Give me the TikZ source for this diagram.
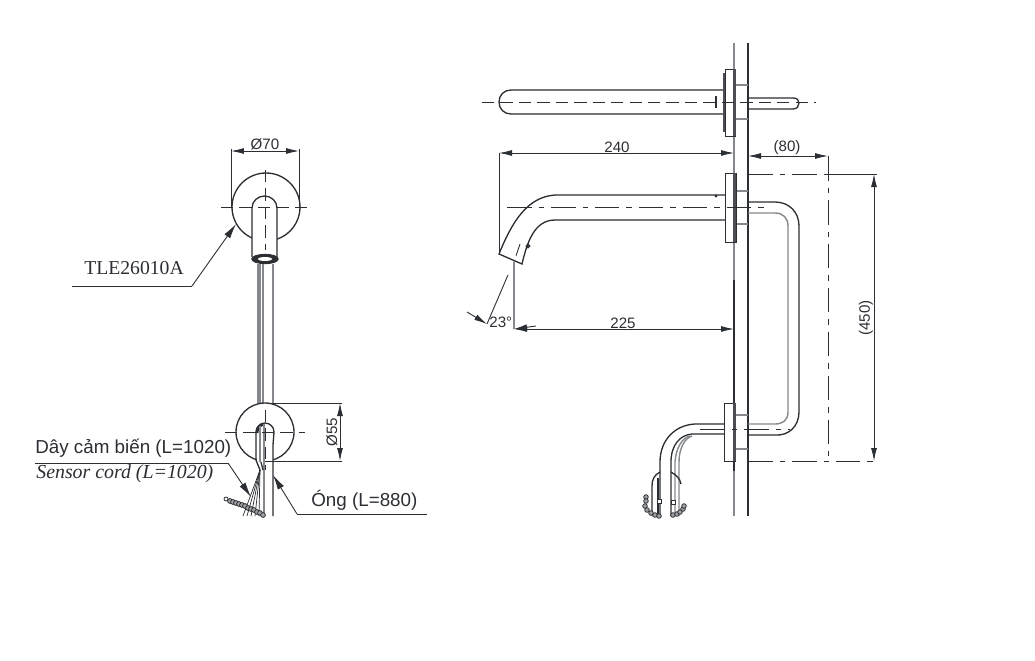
\documentclass[tikz,border=0pt]{standalone}
\usepackage{fontspec}
\setmainfont{Liberation Sans}
\newfontfamily\serifcap{Liberation Serif}
\usetikzlibrary{arrows.meta}

\definecolor{inkdark}{HTML}{2B2E33}
\definecolor{inkgray}{HTML}{85888C}

\tikzset{
	part/.style = {inkdark, line width = 0.75pt},
	softpart/.style = {inkgray, line width = 0.8pt},
	centerdash/.style = {inkdark, line width = 0.5pt, dash pattern = on 7pt off 3.5pt},
	centerchain/.style = {inkdark, line width = 0.5pt, dash pattern = on 14pt off 4pt on 3pt off 4pt},
	dimline/.style = {inkdark, line width = 0.5pt},
	dimarrow/.style = {dimline, {Latex[length=2.6mm,width=1.2mm]}-{Latex[length=2.6mm,width=1.2mm]}},
	leader/.style = {dimline, -{Latex[length=3mm,width=1.4mm]}},
	dimtext/.style = {inkdark, font = \fontsize{8.6}{10}\selectfont, inner sep = 0pt},
	note/.style = {inkdark, font = \fontsize{10.7}{12}\selectfont, inner sep = 0pt},
	strip/.style = {fill = inkdark!85, draw = none},
	bead/.style = {inkdark, line width = 0.45pt, fill = inkdark!45}
}

\begin{document}
\begin{tikzpicture}[x = 0.02cm, y = -0.02cm]
	\useasboundingbox[fill = white] (0,0) rectangle (1035,660);

	% front view, spout
	\draw[part, fill = white] (266,207) circle[radius = 34];
	\draw[part, fill = white] (252,257) -- (252,208) .. controls (252,201) and (258,196) .. (264.5,196) .. controls (271,196) and (277,201) .. (277,208) -- (277,257);
	\draw[part, fill = inkdark] (265,259) ellipse[x radius = 13, y radius = 4.5];
	\fill[white] (265,259) ellipse[x radius = 7, y radius = 2];
	\draw[centerdash] (221,207) -- (307,207);
	\draw[centerdash] (265,170) -- (265,250);
	\foreach \tubex in {258,260,263,273}
		\draw[softpart] (\tubex,264) -- (\tubex,404);

	\draw[dimline] (231,149) -- (231,207);
	\draw[dimline] (299,149) -- (299,207);
	\draw[dimarrow] (231,151) -- (299,151);
	\node[dimtext] (dimSeventy) at (265,144) {Ø70};

	\draw[leader] (192,286) -- (236,224);
	\draw[dimline] (72,286) -- (192,286);
	\node[inkdark, inner sep = 0pt, font = \serifcap\fontsize{11.2}{13}\selectfont] (capModel) at (134,268) {TLE26010A};

	% front view, lower plate
	\draw[part, fill = white] (265,432) circle[radius = 29];
	\fill[white] (257,433) rectangle (273,470);
	\draw[part] (256,460) -- (256,432) .. controls (256,427) and (260,423) .. (265,423) .. controls (270,423) and (274,427) .. (274,432) -- (273,445) -- (273,516);
	\draw[inkdark, line width = 1.6pt] (257,433) .. controls (257,428) and (260,425) .. (264,424);
	\draw[softpart] (264,424) -- (264,516);
	\draw[softpart] (260,426) -- (260,462);
	\draw[centerdash] (225,432) -- (305,432);
	\draw[centerdash] (265,410) -- (265,470);

	\draw[part] (256,460) -- (260,470);
	\draw[part] (261,462) -- (263,470);
	\foreach \wirex in {243,247,251,255,259}
		\draw[inkdark, line width = 0.4pt] (260,470) -- (\wirex,516);
	\draw[inkdark, line width = 0.45pt, fill = white] (226,499) circle[radius = 2];
	\foreach \beadx/\beady in {230/501,233/502,236/503,239/504,242/505,245/506,248/508,251/509,254/510,257/512,260/513,263/515}
		\draw[bead] (\beadx,\beady) circle[radius = 2.4];

	\draw[dimline] (270,403) -- (342,403);
	\draw[dimline] (265,461) -- (342,461);
	\draw[dimarrow] (340,403) -- (340,461);
	\node[dimtext, rotate = 90] (dimFiftyFive) at (332,432) {Ø55};

	\draw[leader] (228,463) -- (251,497);
	\draw[dimline] (35,463) -- (228,463);
	\node[note, anchor = west] (capCordVn) at (35,448) {Dây cảm biến (L=1020)};
	\node[inkdark, inner sep = 0pt, anchor = west, font = \serifcap\itshape\fontsize{11.3}{13}\selectfont] (capCordEn) at (36,474) {Sensor cord (L=1020)};

	\draw[leader] (297,514) -- (273,475);
	\draw[dimline] (297,514) -- (427,514);
	\node[note, anchor = west] (capPipe) at (311,500) {Óng (L=880)};

	% wall
	\draw[softpart] (734,43) -- (734,516);
	\draw[inkdark, line width = 0.9pt] (734,280) -- (734,471);
	\draw[part] (748,43) -- (748,516);

	% top view
	\draw[part, fill = white] (725,90) -- (511,90) .. controls (504,90) and (499,95) .. (499,102) .. controls (499,109) and (504,114) .. (511,114) -- (725,114);
	\draw[part] (748,98) -- (793,98) .. controls (797,98) and (799,100) .. (799,103) .. controls (799,106) and (797,109) .. (793,109) -- (748,109);
	\draw[softpart] (736,85) -- (748,85);
	\draw[softpart] (736,119) -- (748,119);
	\draw[dimline] (725,69) rectangle (735,136);
	\fill[strip] (733,69) rectangle (736,136);
	\fill[strip] (723,73) rectangle (725,132);
	\fill[inkdark] (715,96) rectangle (717,108);
	\draw[centerdash] (482,102) -- (816,102);

	\draw[dimline] (499,153) -- (499,254);
	\draw[dimarrow] (499,153) -- (734,153);
	\node[dimtext] (dimTwoForty) at (617,147) {240};

	\draw[dimarrow] (748,156) -- (828,156);
	\node[dimtext] (dimEighty) at (787,148) {(80)};

	% side view, spout
	\draw[part] (725,195) -- (555,195) .. controls (527,197) and (512,222) .. (499,254) -- (522,264) .. controls (527,243) and (534,220) .. (555,220) -- (725,220);
	\draw[part] (528,246) circle[radius = 1.6];
	\fill[inkdark] (716,196) circle[radius = 1.6];
	\draw[softpart] (736,191) -- (748,191);
	\draw[softpart] (736,224) -- (748,224);
	\draw[dimline] (725,173) rectangle (736,242);
	\fill[strip] (733,173) rectangle (736,242);

	% pipe behind the wall
	\draw[part] (748,202) -- (775,202) .. controls (789,202) and (799,212) .. (799,226) -- (799,412) .. controls (799,426) and (789,436) .. (775,435) -- (748,435);
	\draw[softpart] (748,213) -- (775,213) .. controls (783,213) and (788,218) .. (788,226) -- (788,412) .. controls (788,420) and (783,424) .. (775,424) -- (748,424);

	% side view, lower plate
	\draw[part] (724,424) -- (695,424) .. controls (675,425) and (660,440) .. (660,462) -- (660,516);
	\draw[part] (724,434) -- (692,434) .. controls (680,435) and (671,445) .. (671,462) -- (671,516);
	\draw[softpart] (690,436) .. controls (682,438) and (676,448) .. (675,462) -- (675,516);
	\draw[softpart] (692,436) .. controls (685,438) and (679,448) .. (679,462) -- (679,516);
	\draw[softpart] (736,415) -- (748,415);
	\draw[softpart] (736,449) -- (748,449);
	\draw[dimline] (724,403) rectangle (735,461);
	\fill[strip] (733,403) rectangle (736,461);
	\draw[part] (660,472) .. controls (654,475) and (652,480) .. (652,486) -- (652,516);
	\draw[part] (658,478) -- (658,516);
	\draw[part] (671,472) .. controls (676,475) and (680,478) .. (681,484);
	\foreach \beadx/\beady in {646/497,646/501,645/506,647/510,651/513,655/515,659/516}
		\draw[bead] (\beadx,\beady) circle[radius = 2.3];
	\foreach \beadx/\beady in {673/515,677/514,680/512,683/509,684/506}
		\draw[bead] (\beadx,\beady) circle[radius = 2.3];
	\draw[dimline, fill = white] (657.5,499) rectangle (661,503);
	\draw[dimline, fill = white] (671.5,500) rectangle (675,504);
	\draw[centerchain] (700,429) -- (790,429);

	% centre chain of the spout and angle
	\draw[centerchain] (507,207) -- (765,207);
	\draw[centerdash] (520,244) -- (514,262);
	\draw[dimline] (508,275) -- (487,324);
	\draw[dimline, -{Latex[length=2.6mm,width=1.2mm]}] (467,312) -- (487,324);
	\draw[dimline, -{Latex[length=2.6mm,width=1.2mm]}] (536,326) -- (514,329);
	\node[dimtext, anchor = west] (dimAngle) at (489,322) {23°};

	\draw[softpart] (514,262) -- (514,329);
	\draw[dimarrow] (514,329) -- (734,329);
	\node[dimtext] (dimTwoTwentyFive) at (623,323) {225};

	% overall height
	\draw[centerchain] (748,174) -- (828,174);
	\draw[dimline] (828,174) -- (877,174);
	\draw[centerchain] (748,461) -- (878,461);
	\draw[centerchain] (828,156) -- (828,461);
	\draw[dimarrow] (874,174) -- (874,461);
	\node[dimtext, rotate = 90] (dimHeight) at (866,318) {(450)};
\end{tikzpicture}
\end{document}
